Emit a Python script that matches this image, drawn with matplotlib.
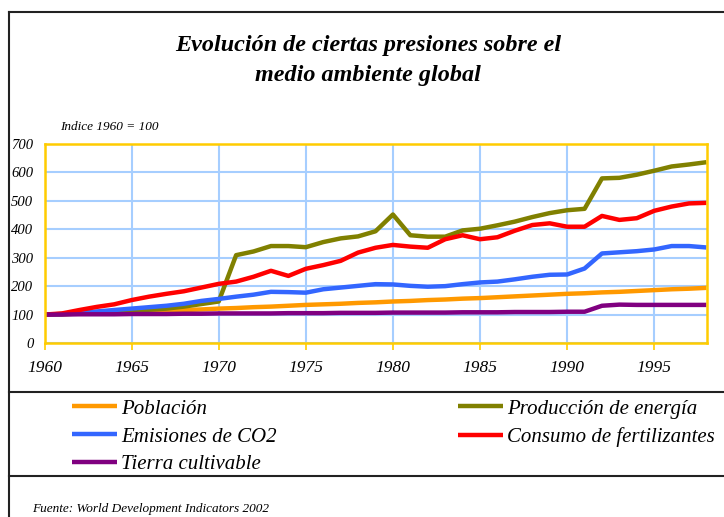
import matplotlib.pyplot as plt
from matplotlib.lines import Line2D

# Datos (índice 1960 = 100)
years = list(range(1960, 1999))

poblacion = [100, 102, 104, 106, 108, 110, 112, 114, 116, 118,
             121, 123, 126, 128, 131, 134, 136, 138, 141, 143,
             146, 148, 151, 153, 156, 158, 161, 164, 167, 170,
             173, 175, 178, 180, 183, 186, 189, 191, 194]

energia = [100, 101, 104, 107, 110, 113, 117, 121, 128, 137,
           146, 309, 322, 341, 341, 337, 355, 368, 375, 393,
           452, 379, 374, 374, 396, 402, 414, 427, 443, 457,
           467, 472, 579, 581, 592, 606, 621, 628, 636]

co2 = [100, 102, 106, 111, 116, 121, 126, 131, 138, 148,
       155, 163, 170, 180, 179, 177, 189, 195, 201, 207,
       206, 201, 198, 200, 207, 213, 216, 224, 233, 240,
       241, 262, 315, 319, 323, 329, 341, 341, 336]

fertilizantes = [100, 104, 116, 127, 136, 151, 163, 173, 182, 195,
                 208, 216, 233, 254, 236, 261, 274, 289, 318, 335,
                 345, 339, 335, 365, 379, 365, 372, 395, 415, 421,
                 409, 409, 447, 433, 439, 465, 480, 491, 493]

tierra = [100, 100, 101, 101, 101, 102, 102, 102, 103, 103,
          104, 104, 104, 104, 105, 105, 105, 106, 106, 106,
          107, 107, 107, 107, 108, 108, 108, 109, 109, 109,
          110, 110, 131, 135, 134, 134, 134, 134, 134]

series = [
    ('Población', poblacion, '#FF9900'),
    ('Producción de energía', energia, '#808000'),
    ('Emisiones de CO2', co2, '#3366FF'),
    ('Consumo de fertilizantes', fertilizantes, '#FF0000'),
    ('Tierra cultivable', tierra, '#800080'),
]

xticks = [1960, 1965, 1970, 1975, 1980, 1985, 1990, 1995]
yticks = [0, 100, 200, 300, 400, 500, 600, 700]

plt.rcParams['font.family'] = ['Liberation Serif', 'DejaVu Serif']

W, H = 724, 517
fig = plt.figure(figsize=(W / 100, H / 100), dpi=100)
fig.patch.set_facecolor('white')

ax = fig.add_axes([44.5 / W, 1 - 343 / H, (706.5 - 44.5) / W, (343 - 144) / H])

lines = {}
for name, vals, color in series:
    ln, = ax.plot(years, vals, color=color, lw=3.2, solid_capstyle='butt',
                  solid_joinstyle='round')
    lines[name] = ln

ax.set_xlim(1960, 1998)
ax.set_ylim(0, 700)
ax.set_xticks(xticks)
ax.set_yticks(yticks)
ax.set_xticklabels([str(t) for t in xticks], fontsize=12.5, style='italic')
ax.set_yticklabels([str(t) for t in yticks], fontsize=10.5, style='italic')
ax.grid(True, color='#A6CEFF', lw=1.5)
ax.set_axisbelow(True)
for s in ax.spines.values():
    s.set_color('#FFCC00')
    s.set_linewidth(1.8)
ax.tick_params(axis='x', colors='#FFCC00', length=5, width=1.2, direction='out',
               labelcolor='black', pad=7)
ax.tick_params(axis='y', length=0, pad=8, labelcolor='black')

# Títulos y textos
fig.text(368 / W, 1 - 46 / H, 'Evolución de ciertas presiones sobre el',
         ha='center', va='center', fontsize=17.4, fontweight='bold', style='italic')
fig.text(368 / W, 1 - 76 / H, 'medio ambiente global',
         ha='center', va='center', fontsize=17.4, fontweight='bold', style='italic')
fig.text(60 / W, 1 - 127 / H, 'Indice 1960 = 100', ha='left', va='center',
         fontsize=9.5, style='italic')
fig.text(32 / W, 1 - 509 / H, 'Fuente: World Development Indicators 2002',
         ha='left', va='center', fontsize=9.5, style='italic')

# Marco exterior
frame = dict(color='#222222', lw=1.5, transform=fig.transFigure)
fig.add_artist(Line2D([9 / W, 9 / W], [0, 1 - 12 / H], **frame))
fig.add_artist(Line2D([9 / W, 1], [1 - 12 / H, 1 - 12 / H], **frame))
fig.add_artist(Line2D([9 / W, 1], [1 - 392 / H, 1 - 392 / H], **frame))
fig.add_artist(Line2D([9 / W, 1], [1 - 476 / H, 1 - 476 / H], **frame))

# Leyenda en dos columnas
col1 = ['Población', 'Emisiones de CO2', 'Tierra cultivable']
col2 = ['Producción de energía', 'Consumo de fertilizantes']
leg_kw = dict(loc='upper left', frameon=False, borderpad=0, borderaxespad=0,
              handlelength=2.15, handletextpad=0.2, labelspacing=0.4,
              prop={'style': 'italic', 'size': 15})
l1 = fig.legend([lines[n] for n in col1], col1,
                bbox_to_anchor=(72 / W, 1 - 399 / H), **leg_kw)
l2 = fig.legend([lines[n] for n in col2], col2,
                bbox_to_anchor=(458 / W, 1 - 399 / H), **leg_kw)

plt.savefig('out.png', dpi=100)
